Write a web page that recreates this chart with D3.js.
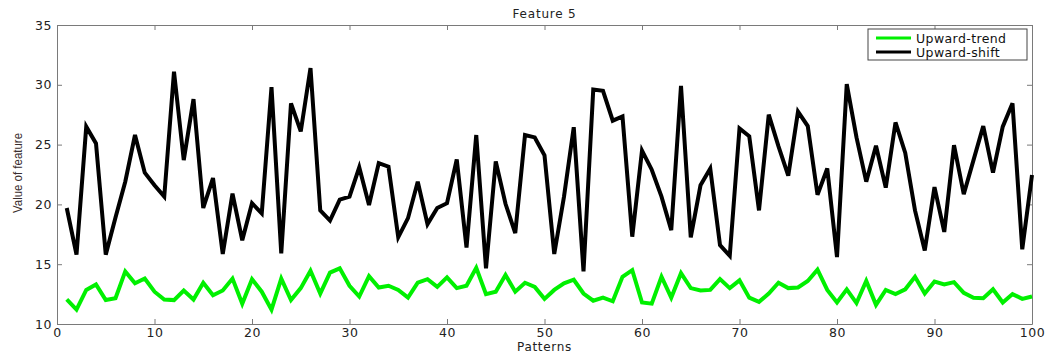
<!DOCTYPE html>
<html>
<head>
<meta charset="utf-8">
<script src="https://cdn.jsdelivr.net/npm/d3@7"></script>
<style>
  body { margin: 0; background: #fff; }
  svg { display: block; }
</style>
</head>
<body>
<div id="chart"></div>
<script>
const patterns = d3.range(1, 101);

const upwardTrend = [
  12.06, 11.2, 12.85, 13.3, 12.0, 12.15, 14.4, 13.4, 13.8, 12.7,
  12.05, 12.0, 12.8, 12.05, 13.45, 12.4, 12.8, 13.8, 11.7, 13.75,
  12.7, 11.2, 13.8, 12.0, 13.0, 14.45, 12.55, 14.3, 14.65, 13.2,
  12.3, 14.0, 13.05, 13.2, 12.85, 12.2, 13.45, 13.75, 13.1, 13.9,
  13.0, 13.2, 14.7, 12.5, 12.7, 14.1, 12.7, 13.45, 13.1, 12.1,
  12.85, 13.4, 13.7, 12.55, 11.95, 12.2, 11.9, 13.95, 14.5, 11.8,
  11.7, 13.95, 12.2, 14.25, 13.0, 12.8, 12.85, 13.75, 13.0, 13.65,
  12.2, 11.85, 12.55, 13.45, 13.0, 13.05, 13.6, 14.55, 12.85, 11.8,
  12.9, 11.75, 13.6, 11.6, 12.85, 12.5, 12.9, 13.95, 12.55, 13.55,
  13.3, 13.5, 12.6, 12.2, 12.15, 12.9, 11.8, 12.5, 12.1, 12.3
];

const upwardShift = [
  19.7, 15.8, 26.5, 25.1, 15.8, 18.9, 21.9, 25.8, 22.65, 21.6,
  20.65, 31.1, 23.7, 28.8, 19.7, 22.2, 15.85, 20.9, 17.0, 20.1,
  19.25, 29.8, 15.9, 28.45, 26.1, 31.4, 19.5, 18.65, 20.4, 20.65,
  23.1, 19.95, 23.45, 23.15, 17.25, 18.85, 21.9, 18.35, 19.7, 20.1,
  23.75, 16.4, 25.8, 14.65, 23.6, 20.05, 17.6, 25.8, 25.6, 24.1,
  15.85, 20.65, 26.45, 14.4, 29.6, 29.5, 27.0, 27.35, 17.3, 24.5,
  22.9, 20.65, 17.85, 29.9, 17.25, 21.6, 23.0, 16.6, 15.7, 26.35,
  25.7, 19.5, 27.5, 24.85, 22.4, 27.75, 26.55, 20.8, 23.0, 15.6,
  30.05, 25.6, 21.9, 24.9, 21.4, 26.85, 24.3, 19.5, 16.15, 21.45,
  17.7, 24.95, 20.85, 23.7, 26.55, 22.65, 26.5, 28.45, 16.25, 22.45
];

const xTicks = [0, 10, 20, 30, 40, 50, 60, 70, 80, 90, 100];
const yTicks = [10, 15, 20, 25, 30, 35];

const seriesNames = ["Upward-trend", "Upward-shift"];
const seriesColors = ["#00f000", "#000000"];

const width = 1049, height = 356;
const margin = { top: 25, right: 17, bottom: 32, left: 57 };
const innerW = width - margin.left - margin.right;
const innerH = height - margin.top - margin.bottom;

const svg = d3.select("#chart").append("svg")
  .attr("width", width)
  .attr("height", height);

const g = svg.append("g")
  .attr("transform", `translate(${margin.left},${margin.top})`);

const x = d3.scaleLinear().domain([0, 100]).range([0, innerW]);
const y = d3.scaleLinear().domain([10, 35]).range([innerH, 0]);

const axisColor = "#7a7a7a";
const textFont = "'DejaVu Sans', Verdana, sans-serif";

// axes, ticks pointing inward on all four sides
function styleAxis(sel) {
  sel.select(".domain").attr("stroke", axisColor).attr("stroke-width", 1);
  sel.selectAll(".tick line").attr("stroke", axisColor);
  sel.selectAll(".tick text")
    .attr("fill", "#222")
    .style("font-family", textFont)
    .style("font-size", "12.5px")
    .style("letter-spacing", "0.6px");
}

g.append("g")
  .attr("transform", `translate(0,${innerH})`)
  .call(d3.axisBottom(x).tickValues(xTicks).tickSizeInner(-5).tickSizeOuter(0).tickPadding(4))
  .call(styleAxis);

g.append("g")
  .call(d3.axisLeft(y).tickValues(yTicks).tickSizeInner(-5).tickSizeOuter(0).tickPadding(5))
  .call(styleAxis);

g.append("g")
  .call(d3.axisTop(x).tickValues(xTicks).tickSizeInner(-5).tickSizeOuter(0).tickFormat(""))
  .call(styleAxis);

g.append("g")
  .attr("transform", `translate(${innerW},0)`)
  .call(d3.axisRight(y).tickValues(yTicks).tickSizeInner(-5).tickSizeOuter(0).tickFormat(""))
  .call(styleAxis);

// lines
const line = d3.line()
  .x((d, i) => x(patterns[i]))
  .y(d => y(d));

[upwardTrend, upwardShift].forEach((vals, k) => {
  g.append("path")
    .datum(vals)
    .attr("fill", "none")
    .attr("stroke", seriesColors[k])
    .attr("stroke-width", 4)
    .attr("stroke-linejoin", "miter")
    .attr("stroke-miterlimit", 4)
    .attr("d", line);
});

// title and axis labels
svg.append("text")
  .attr("x", margin.left + innerW / 2)
  .attr("y", 18)
  .attr("text-anchor", "middle")
  .style("font-family", textFont)
  .style("font-size", "12px")
  .style("letter-spacing", "0.8px")
  .attr("fill", "#222")
  .text("Feature 5");

svg.append("text")
  .attr("x", margin.left + innerW / 2)
  .attr("y", 351)
  .attr("text-anchor", "middle")
  .style("font-family", textFont)
  .style("font-size", "12px")
  .style("letter-spacing", "0.7px")
  .attr("fill", "#222")
  .text("Patterns");

svg.append("text")
  .attr("transform", `translate(22,173) rotate(-90)`)
  .attr("text-anchor", "middle")
  .attr("textLength", 80)
  .attr("lengthAdjust", "spacingAndGlyphs")
  .style("font-family", "'Liberation Sans', Arial, sans-serif")
  .style("font-size", "13px")
  .attr("fill", "#3a2e2e")
  .text("Value of feature");

// legend
const legend = svg.append("g").attr("transform", "translate(868,29)");
legend.append("rect")
  .attr("width", 159)
  .attr("height", 31)
  .attr("fill", "#fff")
  .attr("stroke", "#444")
  .attr("stroke-width", 1);

seriesNames.forEach((name, k) => {
  const row = legend.append("g").attr("transform", `translate(0,${9 + k * 14})`);
  row.append("line")
    .attr("x1", 8).attr("x2", 43)
    .attr("stroke", seriesColors[k])
    .attr("stroke-width", 3);
  row.append("text")
    .attr("x", 48)
    .attr("y", 4.5)
    .style("font-family", textFont)
    .style("font-size", "12.5px")
    .style("letter-spacing", "0.4px")
    .attr("fill", "#111")
    .text(name);
});
</script>
</body>
</html>
